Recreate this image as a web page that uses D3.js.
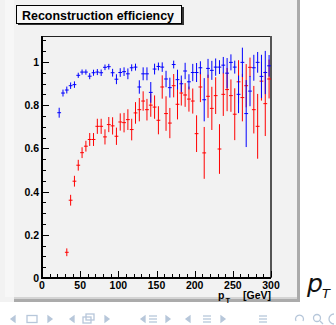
<!DOCTYPE html>
<html><head><meta charset="utf-8">
<script src="https://cdn.jsdelivr.net/npm/d3@7"></script>
<style>html,body{margin:0;padding:0;background:#fff;}svg{display:block;}</style>
</head><body>
<script>
// ---------- data ----------
const bluePt = [22.5,27.5,32.5,37.5,42.5,47.5,52.5,57.5,62.5,67.5,72.5,77.5,82.5,87.5,92.5,97.5,102.5,107.5,112.5,117.5,122.5,127.5,132.5,137.5,142.5,147.5,152.5,157.5,162.5,167.5,172.5,177.5,182.5,187.5,192.5,197.5,202.5,207.5,212.5,217.5,222.5,227.5,232.5,237.5,242.5,247.5,252.5,257.5,262.5,267.5,272.5,277.5,282.5,287.5,292.5,297.5];
const blueEff = [0.765,0.856,0.870,0.890,0.895,0.938,0.953,0.953,0.934,0.950,0.953,0.950,0.975,0.978,0.950,0.920,0.951,0.955,0.945,0.973,0.976,0.884,0.945,0.945,0.859,0.967,0.979,0.976,0.921,0.881,0.988,0.918,0.899,0.958,0.908,0.951,0.951,0.973,0.825,0.970,0.961,0.976,0.976,0.985,0.948,0.998,0.976,0.850,0.998,0.761,0.865,0.973,0.998,0.933,0.951,0.982];
const blueErr = [0.023,0.016,0.016,0.015,0.015,0.012,0.012,0.012,0.014,0.014,0.014,0.015,0.013,0.013,0.018,0.023,0.020,0.020,0.025,0.016,0.016,0.031,0.030,0.030,0.048,0.025,0.018,0.022,0.038,0.046,0.018,0.046,0.038,0.038,0.035,0.040,0.044,0.030,0.100,0.044,0.044,0.040,0.032,0.038,0.070,0.037,0.030,0.087,0.068,0.155,0.070,0.060,0.048,0.100,0.100,0.050];
const redPt = [32.5,37.5,42.5,47.5,52.5,57.5,62.5,67.5,72.5,77.5,82.5,87.5,92.5,97.5,102.5,107.5,112.5,117.5,122.5,127.5,132.5,137.5,142.5,147.5,152.5,157.5,162.5,167.5,172.5,177.5,182.5,187.5,192.5,197.5,202.5,207.5,212.5,217.5,222.5,227.5,232.5,237.5,242.5,247.5,252.5,257.5,262.5,267.5,272.5,277.5,282.5,287.5,292.5,297.5];
const redEff = [0.119,0.360,0.448,0.522,0.580,0.610,0.641,0.641,0.702,0.702,0.653,0.710,0.704,0.656,0.722,0.719,0.733,0.687,0.764,0.779,0.819,0.779,0.800,0.791,0.730,0.884,0.761,0.717,0.890,0.804,0.856,0.847,0.828,0.819,0.668,0.884,0.579,0.841,0.785,0.844,0.597,0.850,0.872,0.844,0.758,0.908,0.835,0.890,0.975,0.779,0.702,0.911,0.807,0.921];
const redErr = [0.018,0.025,0.025,0.025,0.025,0.025,0.030,0.030,0.035,0.035,0.035,0.035,0.040,0.040,0.040,0.045,0.048,0.050,0.050,0.054,0.045,0.050,0.054,0.054,0.065,0.054,0.080,0.070,0.054,0.070,0.058,0.055,0.058,0.058,0.085,0.070,0.120,0.100,0.100,0.085,0.115,0.100,0.100,0.075,0.120,0.100,0.110,0.100,0.045,0.110,0.150,0.090,0.150,0.090];
const binHalfWidth = 2.5;
const xTickLabels = ["0","50","100","150","200","250","300"];
const yTickLabels = ["0","0.2","0.4","0.6","0.8","1"];
const titleText = "Reconstruction efficiency";

// ---------- layout ----------
const W = 336, H = 325;
const svg = d3.select("body").append("svg").attr("width", W).attr("height", H);
const fontB = "'Liberation Sans', Arial, Helvetica, sans-serif";

// canvas background
svg.append("rect").attr("x",0).attr("y",0).attr("width",300).attr("height",302).attr("fill","#f2f2f2");
svg.append("rect").attr("x",5).attr("y",0).attr("width",9).attr("height",297).attr("fill","#f7f7f7");
svg.append("rect").attr("x",14).attr("y",297).attr("width",284).attr("height",2).attr("fill","#d4d4d4");
svg.append("rect").attr("x",14).attr("y",299).attr("width",286).attr("height",3).attr("fill","#ababab");
svg.append("rect").attr("x",297).attr("y",0).attr("width",3).attr("height",302).attr("fill","#ababab");

const x = d3.scaleLinear().domain([0,300]).range([42,271]);
const y = d3.scaleLinear().domain([0,1.12]).range([278,36]);

// frame top/right
svg.append("line").attr("x1",42).attr("x2",271).attr("y1",36.5).attr("y2",36.5).attr("stroke","#222").attr("stroke-width",1);
svg.append("line").attr("x1",271).attr("x2",271).attr("y1",36).attr("y2",278).attr("stroke","#555").attr("stroke-width",2);

// data
function drawSeries(pts, eff, err, color) {
  const g = svg.append("g").attr("stroke", color).attr("stroke-width",1).attr("fill","none");
  pts.forEach((p,i) => {
    g.append("line").attr("x1", x(p)).attr("x2", x(p)).attr("y1", y(eff[i]-err[i])).attr("y2", y(eff[i]+err[i]));
    g.append("line").attr("x1", x(p-binHalfWidth)).attr("x2", x(p+binHalfWidth)).attr("y1", y(eff[i])).attr("y2", y(eff[i]));
  });
}
drawSeries(redPt, redEff, redErr, "#ff0000");
drawSeries(bluePt, blueEff, blueErr, "#0000ff");

// axes lines
svg.append("line").attr("x1",42).attr("x2",42).attr("y1",36).attr("y2",279).attr("stroke","#000").attr("stroke-width",2);
svg.append("line").attr("x1",41).attr("x2",271).attr("y1",278).attr("y2",278).attr("stroke","#000").attr("stroke-width",2);

// y ticks
const yMajor = [0,0.2,0.4,0.6,0.8,1.0];
const yMinor = d3.range(0,1.12,0.05).filter(v => !yMajor.some(m=>Math.abs(m-v)<1e-6));
const yt = svg.append("g").attr("stroke","#000").attr("stroke-width",1);
yMajor.forEach(v => yt.append("line").attr("x1",43).attr("x2",49).attr("y1",Math.round(y(v))+0.5).attr("y2",Math.round(y(v))+0.5));
yMinor.forEach(v => yt.append("line").attr("x1",43).attr("x2",46).attr("y1",Math.round(y(v))+0.5).attr("y2",Math.round(y(v))+0.5));
yMajor.forEach((v,i) => svg.append("text").attr("x",39).attr("y",y(v)+4)
  .attr("text-anchor","end").attr("font-family",fontB).attr("font-weight","bold").attr("font-size","10.5px").text(yTickLabels[i]));

// x ticks
const xMajor = [0,50,100,150,200,250,300];
const xMinor = d3.range(10,300,10).filter(v => v%50!==0);
const xt = svg.append("g").attr("stroke","#000").attr("stroke-width",1);
xMajor.forEach(v => xt.append("line").attr("x1",Math.round(x(v))+0.5).attr("x2",Math.round(x(v))+0.5).attr("y1",277).attr("y2",271));
xMinor.forEach(v => xt.append("line").attr("x1",Math.round(x(v))+0.5).attr("x2",Math.round(x(v))+0.5).attr("y1",277).attr("y2",274));
xMajor.forEach((v,i) => svg.append("text").attr("x",x(v)).attr("y",288.5)
  .attr("text-anchor","middle").attr("font-family",fontB).attr("font-weight","bold").attr("font-size","10.5px").text(xTickLabels[i]));

// x-axis title
const xtG = svg.append("g").attr("font-family",fontB).attr("font-weight","bold");
xtG.append("text").attr("x",218).attr("y",299).attr("font-size","10.5px").text("p");
xtG.append("text").attr("x",225.5).attr("y",302.5).attr("font-size","7.5px").text("T");
xtG.append("text").attr("x",271).attr("y",299).attr("text-anchor","end").attr("font-size","10.5px").text("[GeV]");

// title box
svg.append("rect").attr("x",18).attr("y",7).attr("width",166).attr("height",18).attr("fill","#333");
svg.append("rect").attr("x",16.5).attr("y",5.5).attr("width",165).attr("height",18).attr("fill","#f7f7f7").attr("stroke","#000").attr("stroke-width",1);
svg.append("text").attr("x",22).attr("y",19.5).attr("font-family",fontB).attr("font-weight","bold").attr("font-size","12px")
  .attr("textLength",152).attr("lengthAdjust","spacingAndGlyphs").text(titleText);

// slide text p_T
svg.append("text").attr("x",307).attr("y",292).attr("font-family","'DejaVu Sans', sans-serif").attr("font-style","italic").attr("font-size","25px").attr("fill","#111").text("p");
svg.append("text").attr("x",322).attr("y",298).attr("font-family","'DejaVu Sans', sans-serif").attr("font-style","italic").attr("font-size","13px").attr("fill","#111").text("T");

// beamer navigation symbols
const nav = svg.append("g").attr("fill","none").attr("stroke","#b7c7da").attr("stroke-width",1.3);
const ny = 319;
const leftArr = [13,72,143,188];
const rightArr = [50,107,168,223];
leftArr.forEach(cx => nav.append("path").attr("d",`M${cx+2},${ny-3} L${cx-2},${ny} L${cx+2},${ny+3} Z`).attr("fill","#b7c7da"));
rightArr.forEach(cx => nav.append("path").attr("d",`M${cx-2},${ny-3} L${cx+2},${ny} L${cx-2},${ny+3} Z`).attr("fill","#b7c7da"));
nav.append("rect").attr("x",27).attr("y",ny-3.5).attr("width",10).attr("height",7);
nav.append("rect").attr("x",83).attr("y",ny-2).attr("width",8).attr("height",6);
nav.append("rect").attr("x",86).attr("y",ny-5).attr("width",8).attr("height",6);
[153,207,263].forEach(cx => {
  [-3,0,3].forEach(d => nav.append("line").attr("x1",cx-4).attr("x2",cx+4).attr("y1",ny+d).attr("y2",ny+d));
});
nav.append("path").attr("d",`M296,${ny+2} A4,4 0 1 1 303,${ny+2}`);
nav.append("circle").attr("cx",317).attr("cy",ny-1).attr("r",3.5);
nav.append("line").attr("x1",320).attr("x2",323).attr("y1",ny+2).attr("y2",ny+5);
nav.append("path").attr("d",`M334,${ny-5} A5,5 0 0 0 334,${ny+5}`);
</script>
</body></html>
